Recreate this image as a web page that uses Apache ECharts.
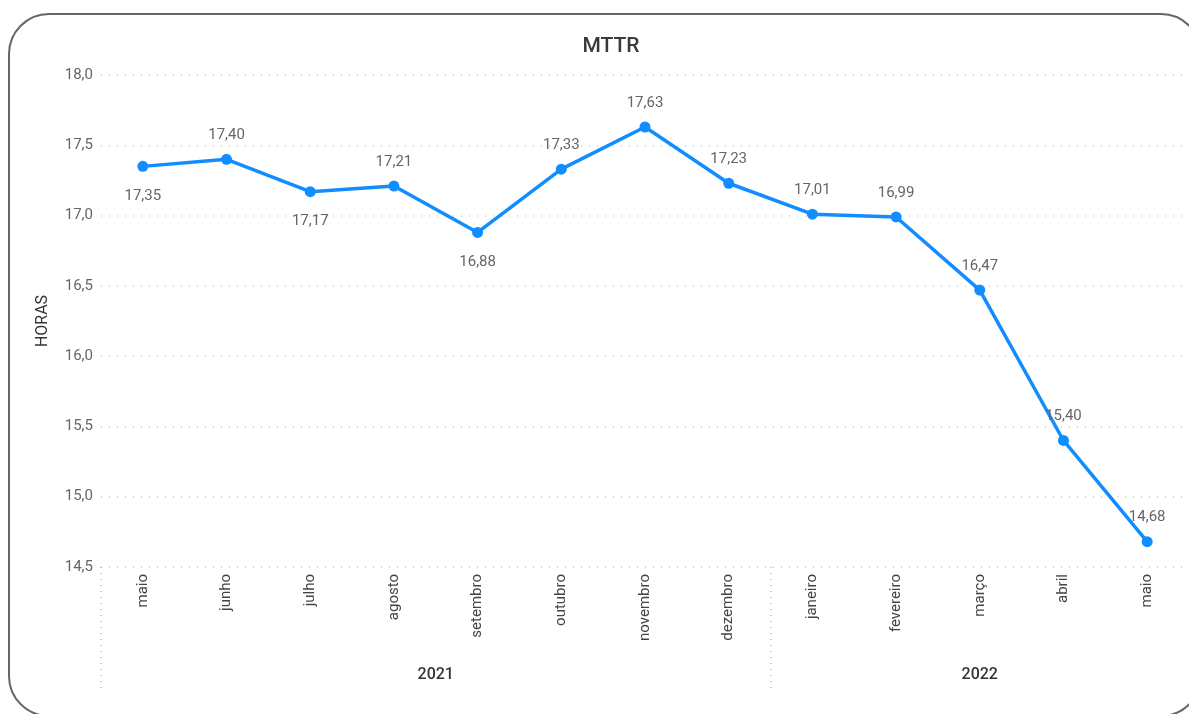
<!DOCTYPE html>
<html>
<head>
<meta charset="utf-8">
<script src="https://cdn.jsdelivr.net/npm/echarts@6/dist/echarts.min.js"></script>
<style>
  html, body { margin: 0; padding: 0; background: #fff; }
  #main { width: 1189px; height: 714px; }
</style>
</head>
<body>
<div id="main"></div>
<script>
// meses (mai/2021 .. mai/2022)
var months = ['maio', 'junho', 'julho', 'agosto', 'setembro', 'outubro', 'novembro',
  'dezembro', 'janeiro', 'fevereiro', 'março', 'abril', 'maio'];
var mttr = [17.35, 17.40, 17.17, 17.21, 16.88, 17.33, 17.63, 17.23, 17.01, 16.99, 16.47, 15.40, 14.68];
var labelPos = ['bottom', 'top', 'bottom', 'top', 'bottom', 'top', 'top', 'top', 'top', 'top', 'top', 'top', 'top'];
var years = ['2021', '2022'];
var yearMonths = [8, 5];   // quantos meses em cada ano
var yTicks = [14.5, 15.0, 15.5, 16.0, 16.5, 17.0, 17.5, 18.0];

var FONT = 'Roboto';

// limites e centros dos grupos de ano (em unidades de categoria)
var yearBounds = [], yearCenters = [];
var start = -0.5;
yearMonths.forEach(function (n) {
  yearBounds.push(start);
  yearCenters.push(start + n / 2);
  start += n;
});

var fmt = function (v) { return v.toFixed(2).replace('.', ','); };

var myChart = echarts.init(document.getElementById('main'));
myChart.setOption({
  animation: false,
  textStyle: { fontFamily: FONT },
  title: {
    text: 'MTTR',
    left: 606,
    top: 31,
    textAlign: 'center',
    textStyle: { fontSize: 21, fontWeight: 500, color: '#3a3a3a', fontFamily: FONT }
  },
  graphic: [{
    type: 'rect',
    shape: { x: 9, y: 14, width: 1192, height: 702, r: 40 },
    style: { fill: 'none', stroke: '#666', lineWidth: 2 },
    silent: true
  }],
  grid: { left: 101, right: -2, top: 75, bottom: 147 },
  xAxis: [{
    type: 'category',
    data: months,
    boundaryGap: true,
    axisLine: { show: false },
    axisTick: { show: false },
    axisLabel: { rotate: 90, margin: 7, color: '#444', fontSize: 15, fontFamily: FONT }
  }, {
    type: 'value',
    min: -0.5,
    max: 12.5,
    interval: 0.5,
    position: 'bottom',
    axisLine: { show: false },
    splitLine: { show: false },
    axisTick: {
      show: true,
      customValues: yearBounds,
      length: 123,
      lineStyle: { type: [1, 5], color: '#bbb', width: 1.5 }
    },
    axisLabel: {
      customValues: yearCenters,
      margin: 100,
      color: '#333',
      fontSize: 16,
      fontWeight: 500,
      fontFamily: FONT,
      formatter: function (v) {
        var i = yearCenters.indexOf(v);
        return i >= 0 ? years[i] : '';
      }
    }
  }],
  yAxis: {
    type: 'value',
    min: yTicks[0],
    max: yTicks[yTicks.length - 1],
    interval: 0.5,
    name: 'HORAS',
    nameLocation: 'middle',
    nameGap: 50,
    nameRotate: 90,
    nameTextStyle: { color: '#333', fontSize: 16, fontFamily: FONT },
    axisLine: { show: false },
    axisTick: { show: false },
    axisLabel: {
      margin: 8,
      color: '#666',
      fontSize: 15,
      fontFamily: FONT,
      formatter: function (v) { return v.toFixed(1).replace('.', ','); }
    },
    splitLine: { lineStyle: { type: [1, 7], color: '#c8c8c8', width: 1.5 } }
  },
  series: [{
    type: 'line',
    data: mttr.map(function (v, i) {
      return {
        value: v,
        label: { position: labelPos[i], distance: labelPos[i] === 'top' ? 11 : 17 }
      };
    }),
    symbol: 'circle',
    symbolSize: 11,
    lineStyle: { color: '#118DFF', width: 3.5 },
    itemStyle: { color: '#118DFF' },
    label: {
      show: true,
      color: '#666',
      fontSize: 15,
      fontFamily: FONT,
      formatter: function (p) { return fmt(p.value); }
    }
  }]
});
</script>
</body>
</html>
